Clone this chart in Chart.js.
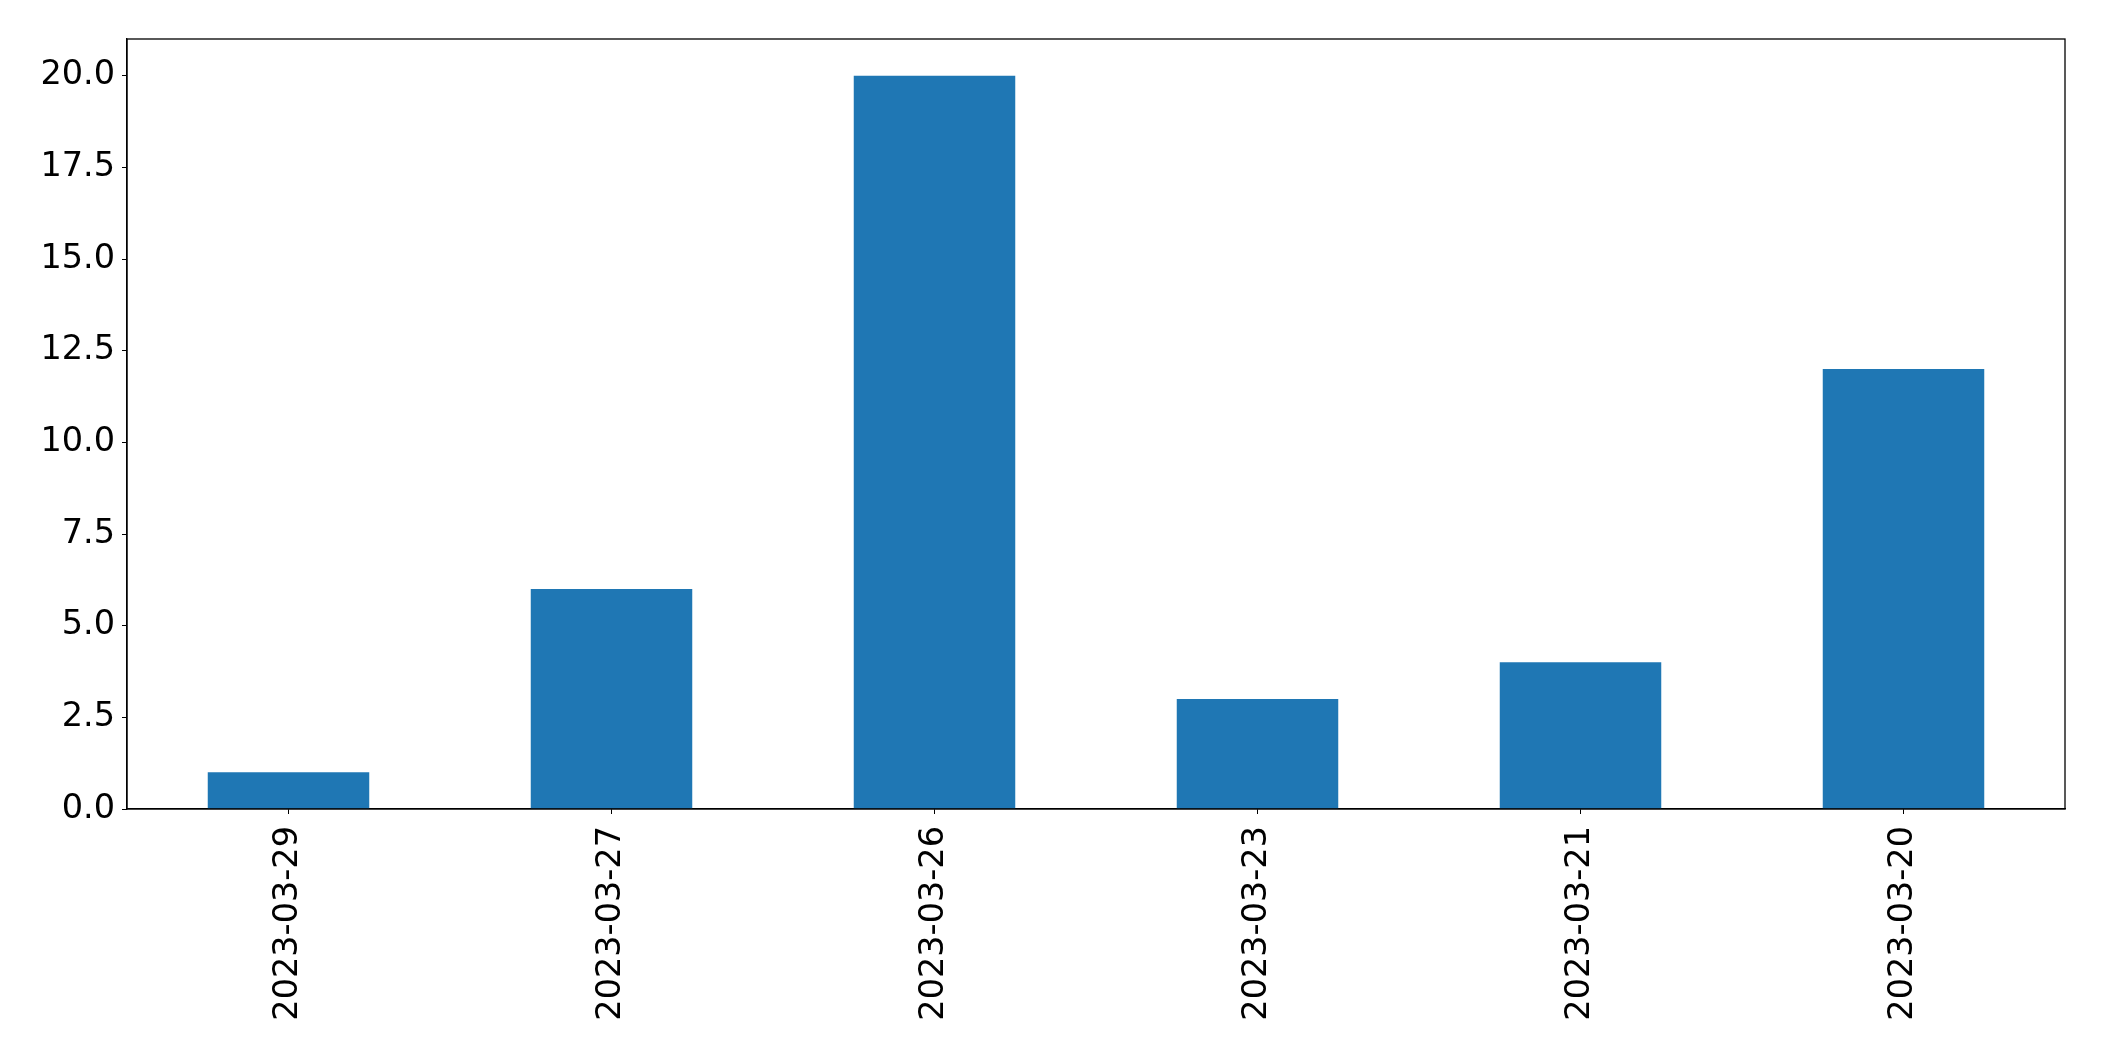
<!DOCTYPE html>
<html>
<head>
<meta charset="utf-8">
<script src="https://cdn.jsdelivr.net/npm/chart.js@4/dist/chart.umd.min.js"></script>
<style>
  html, body { margin: 0; padding: 0; background: #ffffff; }
  #wrap { width: 2104px; height: 1061px; }
</style>
</head>
<body>
<div id="wrap"><canvas id="c" width="2104" height="1061"></canvas></div>
<script>
const categories = ["2023-03-29", "2023-03-27", "2023-03-26", "2023-03-23", "2023-03-21", "2023-03-20"];
const values = [1, 6, 20, 3, 4, 12];
const yMin = 0;
const yMax = 21;
const yStep = 2.5;

const frame = {
  id: 'frame',
  afterDraw(chart) {
    const a = chart.chartArea;
    const ctx = chart.ctx;
    ctx.save();
    ctx.strokeStyle = '#000000';
    ctx.lineWidth = 1.3;
    ctx.strokeRect(a.left, a.top, a.right - a.left, a.bottom - a.top);
    ctx.restore();
  }
};

new Chart(document.getElementById('c'), {
  type: 'bar',
  data: {
    labels: categories,
    datasets: [{
      data: values,
      backgroundColor: '#1f77b4',
      borderWidth: 0,
      barPercentage: 0.5,
      categoryPercentage: 1.0
    }]
  },
  options: {
    responsive: false,
    devicePixelRatio: 1,
    animation: false,
    layout: { padding: { top: 39, right: 39, left: 0, bottom: 0 } },
    plugins: { legend: { display: false }, tooltip: { enabled: false } },
    scales: {
      x: {
        offset: true,
        grid: { display: true, offset: false, drawOnChartArea: false, drawTicks: true, tickLength: 5, color: '#000000' },
        border: { display: true, color: '#000000', width: 1.3 },
        ticks: {
          color: '#000000',
          font: { family: 'DejaVu Sans', size: 33.5 },
          minRotation: 90, maxRotation: 90,
          padding: 12,
          autoSkip: false
        },
        afterFit(scale) { scale.height = 252; }
      },
      y: {
        min: yMin, max: yMax,
        grid: { display: true, drawOnChartArea: false, drawTicks: true, tickLength: 5, color: '#000000' },
        border: { display: true, color: '#000000', width: 1.3 },
        ticks: {
          stepSize: yStep,
          includeBounds: false,
          color: '#000000',
          font: { family: 'DejaVu Sans', size: 33.5 },
          padding: 7,
          callback: (v) => Number(v).toFixed(1)
        },
        afterFit(scale) { scale.width = 127; }
      }
    }
  },
  plugins: [frame]
});
</script>
</body>
</html>
